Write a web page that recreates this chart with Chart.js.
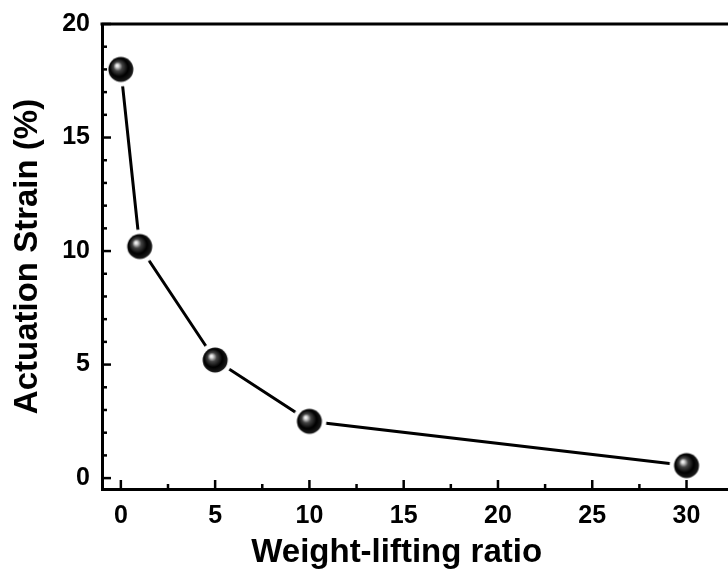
<!DOCTYPE html>
<html>
<head>
<meta charset="utf-8">
<script src="https://cdn.jsdelivr.net/npm/chart.js@4.4.1/dist/chart.umd.min.js"></script>
<style>
  html, body { margin: 0; padding: 0; background: #fff; overflow: hidden; }
  #wrap { width: 728px; height: 576px; }
  canvas { display: block; }
</style>
</head>
<body>
<div id="wrap"><canvas id="myChart" width="728" height="576"></canvas></div>
<script>
// data
var ratios = [0, 1, 5, 10, 30];
var strain = [18.0, 10.2, 5.2, 2.5, 0.55];
var xTicks = [0, 5, 10, 15, 20, 25, 30];
var yTicks = [0, 5, 10, 15, 20];

var FONT = "'Liberation Sans', Arial, sans-serif";

// black glossy ball used as the point marker
function makeBall() {
  var c = document.createElement('canvas');
  c.width = 36; c.height = 36;
  var g = c.getContext('2d');
  var cx = 18, cy = 18;
  // white halo makes the gap between line and ball
  g.fillStyle = '#fff';
  g.beginPath(); g.arc(cx, cy, 17, 0, Math.PI * 2); g.fill();
  var grad = g.createRadialGradient(cx - 4, cy - 4, 0, cx - 1, cy - 1, 13);
  grad.addColorStop(0, '#ffffff');
  grad.addColorStop(0.12, '#d8d8d8');
  grad.addColorStop(0.35, '#444');
  grad.addColorStop(0.7, '#000');
  grad.addColorStop(1, '#1a1a1a');
  g.fillStyle = grad;
  g.beginPath(); g.arc(cx, cy, 12.5, 0, Math.PI * 2); g.fill();
  return c;
}
var ball = makeBall();

// inward ticks + top frame line
var frame = {
  id: 'frame',
  afterDraw: function(chart) {
    var ctx = chart.ctx, a = chart.chartArea;
    var xs = chart.scales.x, ys = chart.scales.y;
    ctx.save();
    ctx.strokeStyle = '#000';
    ctx.lineWidth = 3;
    ctx.beginPath();
    ctx.moveTo(a.left - 1.5, a.top);
    ctx.lineTo(a.right, a.top);
    ctx.stroke();
    ctx.lineWidth = 2.5;
    var v, p, len;
    for (v = 0; v <= 32; v += 2.5) {
      p = xs.getPixelForValue(v);
      len = (v % 5 === 0) ? 9 : 5;
      ctx.beginPath(); ctx.moveTo(p, a.bottom); ctx.lineTo(p, a.bottom - len); ctx.stroke();
    }
    for (v = 0; v <= 20; v += 1) {
      p = ys.getPixelForValue(v);
      len = (v % 5 === 0) ? 9 : 5;
      ctx.beginPath(); ctx.moveTo(a.left, p); ctx.lineTo(a.left + len, p); ctx.stroke();
    }
    ctx.restore();
  }
};

// no extra room for overhanging tick labels, the plot runs to the edge
function noPad(s) {
  s.paddingLeft = s.paddingRight = s.paddingTop = s.paddingBottom = 0;
}

var ctx = document.getElementById('myChart');
var chart = new Chart(ctx, {
  type: 'line',
  data: {
    datasets: [{
      data: ratios.map(function(x, i) { return { x: x, y: strain[i] }; }),
      borderColor: '#000',
      borderWidth: 3,
      tension: 0,
      pointStyle: ball,
      pointRadius: 18,
      clip: false
    }]
  },
  options: {
    responsive: false,
    animation: false,
    layout: { autoPadding: false, padding: { top: 24, right: 0, left: 0, bottom: 0 } },
    plugins: { legend: { display: false }, tooltip: { enabled: false } },
    scales: {
      x: {
        type: 'linear',
        min: -1,
        max: 32.2,
        afterBuildTicks: function(s) { s.ticks = xTicks.map(function(v) { return { value: v }; }); },
        afterFit: function(s) { s.height = 87; noPad(s); },
        grid: { display: false, drawTicks: false },
        border: { display: true, color: '#000', width: 3 },
        ticks: { color: '#000', padding: 12, maxRotation: 0, font: { family: FONT, size: 25, weight: 'bold' } },
        title: { display: true, text: 'Weight-lifting ratio\u00a0\u00a0\u00a0\u00a0', color: '#000', padding: { top: 4, bottom: 3 }, font: { family: FONT, size: 33, weight: 'bold' } }
      },
      y: {
        type: 'linear',
        min: -0.48,
        max: 20,
        afterBuildTicks: function(s) { s.ticks = yTicks.map(function(v) { return { value: v }; }); },
        afterFit: function(s) { s.width = 102; noPad(s); },
        grid: { display: false, drawTicks: false },
        border: { display: true, color: '#000', width: 3 },
        ticks: { color: '#000', padding: 12, font: { family: FONT, size: 25, weight: 'bold' } },
        title: { display: true, text: 'Actuation Strain (%)', color: '#000', padding: { top: 8, bottom: 0 }, font: { family: FONT, size: 33, weight: 'bold' } }
      }
    }
  },
  plugins: [frame]
});
</script>
</body>
</html>
